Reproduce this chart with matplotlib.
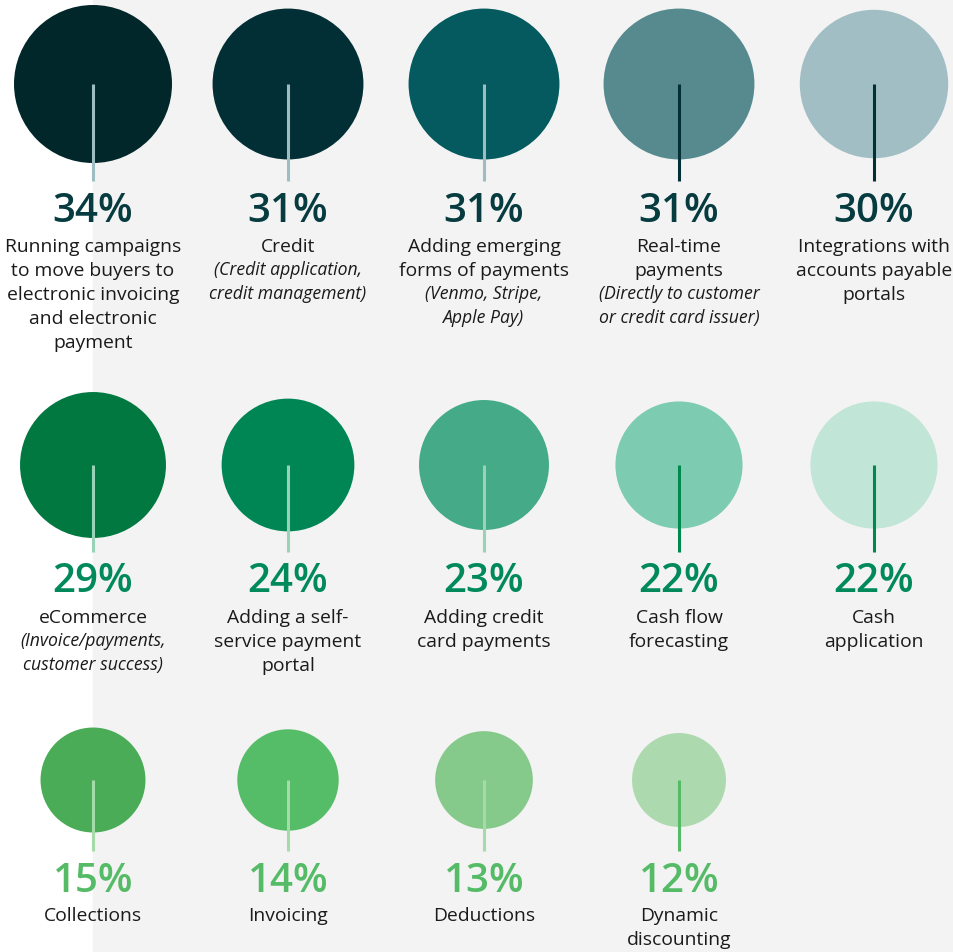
import numpy as np
import matplotlib.pyplot as plt
from matplotlib.patches import Circle, Rectangle

# survey shares, one circle per answer
values = [34, 31, 31, 31, 30,
          29, 24, 23, 22, 22,
          15, 14, 13, 12]

labels = ["Running campaigns\nto move buyers to\nelectronic invoicing\nand electronic\npayment",
          "Credit",
          "Adding emerging\nforms of payments",
          "Real-time\npayments",
          "Integrations with\naccounts payable\nportals",
          "eCommerce",
          "Adding a self-\nservice payment\nportal",
          "Adding credit\ncard payments",
          "Cash flow\nforecasting",
          "Cash\napplication",
          "Collections",
          "Invoicing",
          "Deductions",
          "Dynamic\ndiscounting"]

notes = ["",
         "(Credit application,\ncredit management)",
         "(Venmo, Stripe,\nApple Pay)",
         "(Directly to customer\nor credit card issuer)",
         "",
         "(Invoice/payments,\ncustomer success)",
         "", "", "", "",
         "", "", "", ""]

fill_colors = ["#02272a", "#022e35", "#055a5f", "#568a8f", "#a2bec5",
               "#007840", "#008655", "#45aa88", "#7dcbb1", "#c1e5d7",
               "#4aac56", "#55bc68", "#85c98b", "#acd9ae"]

stem_colors = ["#9dbdc3", "#9dbdc3", "#9dbdc3", "#023036", "#023036",
               "#98d3b8", "#98d3b8", "#98d3b8", "#00894f", "#00894f",
               "#a5dba8", "#a5dba8", "#a5dba8", "#55bb66"]

row_text_colors = ["#063b40", "#00895a", "#55bb66"]

# layout (pixels)
W, H = 954, 952
col_x = [93, 288, 484, 679, 874]
row_cy = [84, 465, 780]
row_stem_end = [181, 552, 851]
row_pct_base = [222, 592, 892]
row_label_base = [252, 623, 921]
line_step = 24
k = 79 / np.sqrt(34)   # circle area proportional to share

plt.rcParams['font.family'] = ['Open Sans', 'DejaVu Sans']

fig = plt.figure(figsize=(W / 100, H / 100), dpi=100)
ax = fig.add_axes([0, 0, 1, 1])
ax.set_xlim(0, W)
ax.set_ylim(H, 0)
ax.axis('off')

fig.patch.set_facecolor('white')
ax.add_patch(Rectangle((93, 0), W - 93, H, color='#f3f3f3', zorder=0))

for i, v in enumerate(values):
    row, col = divmod(i, 5)
    x = col_x[col]
    cy = row_cy[row]
    ax.add_patch(Circle((x, cy), k * np.sqrt(v), color=fill_colors[i], lw=0, zorder=1))
    ax.plot([x, x], [cy, row_stem_end[row]], color=stem_colors[i], lw=2.2,
            solid_capstyle='butt', zorder=2)
    ax.text(x, row_pct_base[row], f"{v}%", ha='center', va='baseline',
            fontsize=29, fontweight='semibold', color=row_text_colors[row])

    y = row_label_base[row]
    for line in labels[i].split("\n"):
        ax.text(x, y, line, ha='center', va='baseline', fontsize=13.9, color='#1a1a1a')
        y += line_step
    if notes[i]:
        for line in notes[i].split("\n"):
            ax.text(x, y - 1, line, ha='center', va='baseline', fontsize=12.7,
                    style='italic', color='#1a1a1a')
            y += line_step

fig.savefig("out.png", dpi=100, facecolor='white')
